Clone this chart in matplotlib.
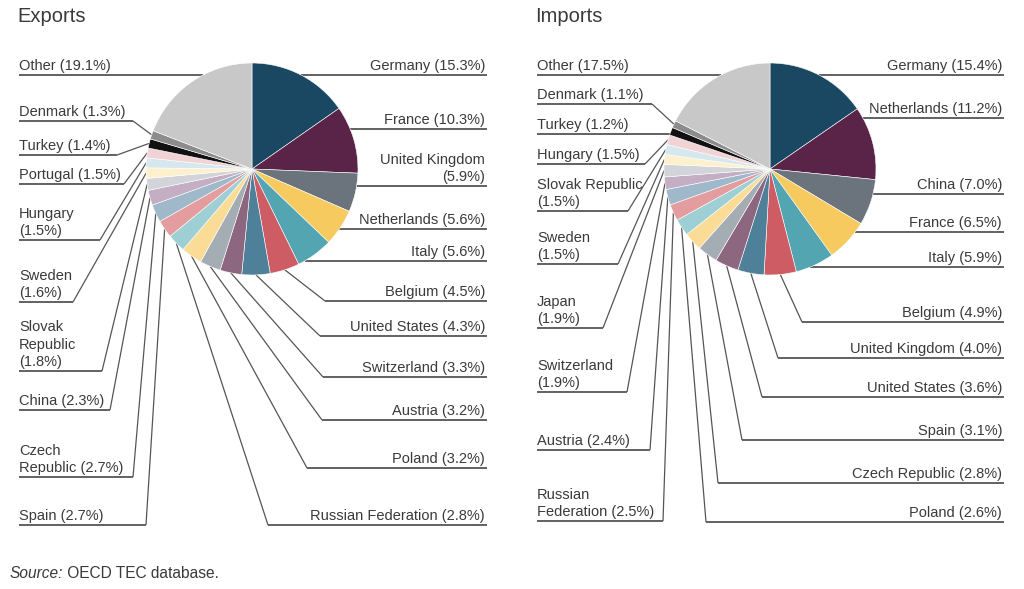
import numpy as np
import matplotlib
matplotlib.use("Agg")
import matplotlib.pyplot as plt

# --- Data --- #
exp_names = ["Germany", "France", "United Kingdom", "Netherlands", "Italy",
             "Belgium", "United States", "Switzerland", "Austria", "Poland",
             "Russian Federation", "Spain", "Czech Republic", "China",
             "Slovak Republic", "Sweden", "Hungary", "Portugal", "Turkey",
             "Denmark", "Other"]
exp_values = [15.3, 10.3, 5.9, 5.6, 5.6, 4.5, 4.3, 3.3, 3.2, 3.2, 2.8,
              2.7, 2.7, 2.3, 1.8, 1.6, 1.5, 1.5, 1.4, 1.3, 19.1]

imp_names = ["Germany", "Netherlands", "China", "France", "Italy",
             "Belgium", "United Kingdom", "United States", "Spain",
             "Czech Republic", "Poland", "Russian Federation", "Austria",
             "Switzerland", "Japan", "Sweden", "Slovak Republic", "Hungary",
             "Turkey", "Denmark", "Other"]
imp_values = [15.4, 11.2, 7.0, 6.5, 5.9, 4.9, 4.0, 3.6, 3.1, 2.8, 2.6,
              2.5, 2.4, 1.9, 1.9, 1.5, 1.5, 1.5, 1.2, 1.1, 17.5]

# slice colours by rank (same palette for both pies)
COLORS = ["#1a4862", "#5a2449", "#6b737d", "#f6ca5e", "#52a5b1", "#cd5c65",
          "#4f8099", "#8d6780", "#a5adb4", "#fbdc96", "#9dcfd5", "#e39d9e",
          "#9fb8ca", "#c4aec3", "#d2d4da", "#fdf0cc", "#d6e7ed", "#f2d3d5",
          "#111111", "#8c8c8c", "#c8c8c8"]

# --- Label layout (pixel coords): side, underline y, inner end of underline --- #
exp_layout = {
    "Germany": ("R", 75, 301), "France": ("R", 129, 350),
    "United Kingdom": ("R", 186, 357), "Netherlands": ("R", 229, 342),
    "Italy": ("R", 261, 300), "Belgium": ("R", 301, 325),
    "United States": ("R", 336, 320), "Switzerland": ("R", 377, 323),
    "Austria": ("R", 420, 322), "Poland": ("R", 468, 307),
    "Russian Federation": ("R", 525, 268),
    "Spain": ("L", 525, 146), "Czech Republic": ("L", 477, 133),
    "China": ("L", 410, 110), "Slovak Republic": ("L", 371, 102),
    "Sweden": ("L", 302, 73), "Hungary": ("L", 240, 100),
    "Portugal": ("L", 184, 124), "Turkey": ("L", 155, 117),
    "Denmark": ("L", 121, 133), "Other": ("L", 75, 200),
}
exp_wrap = {"United Kingdom": "United Kingdom\n", "Hungary": "Hungary\n",
            "Sweden": "Sweden\n", "Slovak Republic": "Slovak\nRepublic\n",
            "Czech Republic": "Czech\nRepublic "}

imp_layout = {
    "Germany": ("R", 75, 818), "Netherlands": ("R", 118, 857),
    "China": ("R", 194, 873), "France": ("R", 232, 857),
    "Italy": ("R", 267, 797), "Belgium": ("R", 322, 802),
    "United Kingdom": ("R", 358, 778), "United States": ("R", 397, 762),
    "Spain": ("R", 440, 742), "Czech Republic": ("R", 483, 718),
    "Poland": ("R", 522, 706),
    "Russian Federation": ("L", 521, 663), "Austria": ("L", 450, 650),
    "Switzerland": ("L", 392, 627), "Japan": ("L", 328, 603),
    "Sweden": ("L", 264, 618), "Slovak Republic": ("L", 211, 628),
    "Hungary": ("L", 164, 645), "Turkey": ("L", 134, 672),
    "Denmark": ("L", 104, 652), "Other": ("L", 75, 720),
}
imp_wrap = {"Slovak Republic": "Slovak Republic\n", "Sweden": "Sweden\n",
            "Japan": "Japan\n", "Switzerland": "Switzerland\n",
            "Russian Federation": "Russian\nFederation "}

W, H = 1024, 589
TEXT = "#3a3a3a"
LINE = "#555555"
FONT = "Liberation Sans"
FS = 10.5

plt.rcParams["font.family"] = [FONT, "DejaVu Sans"]

fig = plt.figure(figsize=(W / 100, H / 100), dpi=100)
ax = fig.add_axes([0, 0, 1, 1])


def Y(y):
    # pixel row -> data y
    return H - y


def draw_pie(names, values, layout, wrap, cx, cy, r, x_left, x_right, title):
    ax.pie(values, colors=COLORS, startangle=90, counterclock=False,
           center=(cx, Y(cy)), radius=r, frame=True,
           wedgeprops=dict(edgecolor="white", linewidth=0.4))
    ax.text(x_left - 2, Y(17), title, fontsize=14.5, color=TEXT,
            ha="left", va="center")

    total = sum(values)
    cum = np.cumsum([0] + list(values)) / total * 360
    for i, name in enumerate(names):
        side, yl, inner = layout[name]
        a0, a1 = cum[i], cum[i + 1]
        label = f"{wrap.get(name, name + ' ')}({values[i]:.1f}%)"

        # does a horizontal line at yl meet this wedge's arc?
        hit = None
        dy = cy - yl
        if abs(dy) < r:
            dx = np.sqrt(r ** 2 - dy ** 2)
            sx = dx if side == "R" else -dx
            ang = np.degrees(np.arctan2(sx, dy)) % 360
            if a0 <= ang <= a1:
                hit = cx + sx
        if hit is not None:
            inner = hit
        else:
            am = np.radians((a0 + a1) / 2)
            px, py = cx + r * np.sin(am), cy - r * np.cos(am)
            ax.plot([inner, px], [Y(yl), Y(py)], color=LINE, lw=0.9,
                    solid_capstyle="butt", zorder=0)

        outer = x_right + 2 if side == "R" else x_left
        ax.plot([min(inner, outer), max(inner, outer)], [Y(yl), Y(yl)],
                color=LINE, lw=1.3, solid_capstyle="butt", zorder=0)
        if side == "R":
            ax.text(x_right, Y(yl - 2), label, ha="right", va="bottom",
                    fontsize=FS, color=TEXT, linespacing=1.3, multialignment="right")
        else:
            ax.text(x_left, Y(yl - 2), label, ha="left", va="bottom",
                    fontsize=FS, color=TEXT, linespacing=1.3)


draw_pie(exp_names, exp_values, exp_layout, exp_wrap, 252, 169, 106,
         19, 485, "Exports")
draw_pie(imp_names, imp_values, imp_layout, imp_wrap, 770, 169, 106,
         537, 1002, "Imports")

src = ax.text(10, Y(574), "Source:", fontsize=11.2, color=TEXT,
              style="italic", ha="left", va="center")
ax.annotate(" OECD TEC database.", xy=(1, 0.5), xycoords=src,
            fontsize=11.2, color=TEXT, ha="left", va="center")

ax.set_xlim(0, W)
ax.set_ylim(0, H)
ax.set_aspect("equal")
ax.axis("off")

plt.savefig("out.png", dpi=100)
